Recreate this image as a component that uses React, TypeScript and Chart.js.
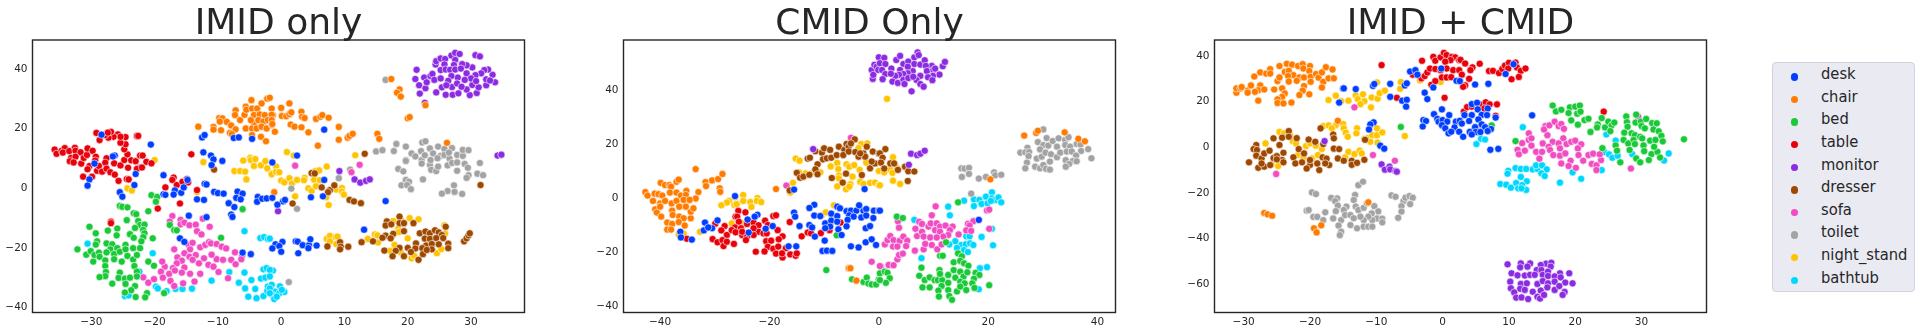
import React, { useEffect, useRef } from "react";
import { Chart, registerables } from "chart.js";

Chart.register(...registerables);

const categories = ["desk", "chair", "bed", "table", "monitor", "dresser", "sofa", "toilet", "night_stand", "bathtub"];
const colors = ["#023eff", "#ff7c00", "#1ac938", "#e8000b", "#8b2be2", "#9f4800", "#f14cc1", "#a3a3a3", "#ffc400", "#00d7ff"];

// Flat x,y lists.
const imidDesk = [-28.4,18,-20.6,14.7,-12.5,17.1,-12.1,17.9,-12.3,12.1,-11.1,11,-10.7,9.7,-11,7.8,-9.3,9.2,-26.3,11,-26.6,10.7,-29.5,8.3,-23,4.8,-30.3,3,-30.6,0.9,-23.2,1.1,-25.5,-1.3,-25.1,-2.8,-18.6,4.4,-18.6,-2,-18.3,-2.2,-16.8,-0.7,-17,-2.1,-15.8,-1.5,-15.4,0.3,-14.8,2.8,-12.1,1.5,-11.8,1.3,-13.3,-3.7,-12.2,-3.9,-10.6,-1.2,-10,-1.6,-9.1,-1.8,-6.9,-1.1,-6.1,-1.8,-7.1,-3.2,-6.4,-3.7,-8.3,-5,-7.4,-6.3,-7.9,-8.8,-7.7,-9.6,-11.8,-9.7,-14.6,-9.2,-16,-16.8,-15.3,-18,-3.7,-2.9,-3.8,-4.5,-3,-3.5,-2.3,-3.4,-6.1,-21.6,-4.8,-22.1,-4.6,16.6,-7.5,16.9,-6.7,17.1,2.5,11,-1.4,8.7,6.8,19.7,6.8,2.8,-1.4,-3.2,0.3,-4.4,0.6,-3.9,-0.6,-5.5,4.7,-3,6.6,-2.7,16.5,-4.3,13.1,-13.9,-0.9,-18.8,0.2,-18,-0.3,-19.4,-1.4,-20.2,0,-21.3,2.3,-17.8,2.6,-17.9,3.4,-19.1,4.4,-19.1,4.3,-20.1,4.6,-17.1,5.6,-19.2,2.7,-21.8];
const imidChair = [-13.1,20.7,-10.7,20.6,-10.7,19.7,-9.5,19.5,-9.8,23.6,-9.3,23.5,-9.7,22.4,-8.6,22.3,-7.9,21.1,-7.2,19.8,-8.1,18.6,-7.8,18.2,-7.2,26.2,-7.3,24.6,-6.5,22.9,-5.8,24.7,-5.6,27.4,-5.5,26.4,-4.7,29.6,-4.6,26.8,-3.8,26.8,-3.1,28.5,-2.2,30.1,-4.3,24.6,-3.4,24.8,-2.6,24.6,-4.3,21.8,-4.8,22.9,-3.6,22.9,-2.8,22.4,-2.1,22.9,-5.6,20.1,-4.6,20.1,-3.9,20.1,-3.1,20.7,-2.3,20.1,-4.6,17.9,-3.2,17.3,-2.4,15.8,-1.5,26.8,-1.3,24.6,-1.5,21.3,-1,19,-1.8,30.4,0,27,1.3,28.5,-1.5,24.7,-1.5,22.9,-1.4,21.6,0.1,24.3,0.8,24.2,1.3,24.9,1.6,25.5,3.2,25.7,3.3,24,3.7,23.6,1.5,21.4,2.1,20.7,3.2,20.5,4.3,18.8,5.5,23.3,6.2,24,6.5,24.6,7.5,23.7,9.1,20.6,9.1,16.3,10.5,17,10.8,17.6,11.3,18.3,5.8,14.3,15.2,18.3,15.5,16.6,17.4,36.7,18.7,33.2,18.3,32.1,18.9,30.8,20,23.5,20.3,23.9,22.8,27.9,26.2,15.3,-1.1,-1.3];
const imidBed = [-20.5,-2.3,-19.6,-2.9,-19.8,-4.5,-21,-7.7,-25.5,-5.9,-25.1,-6.2,-24.3,-6.4,-23.3,-8.4,-22.9,-8.7,-24.4,-10.7,-22.6,-11,-22.3,-12.3,-21.6,-12.2,-23.1,-13.3,-21.8,-14,-21.6,-15.1,-23.9,-15.4,-23.3,-16.6,-21.8,-16.4,-22.1,-17.8,-20.3,-16.8,-30.3,-12.9,-29.3,-15.1,-27.4,-14.2,-25.9,-13.5,-26,-15.8,-29.1,-17.8,-29.3,-18.9,-32.2,-20.5,-30.8,-22.3,-30.1,-21.1,-29.7,-24.6,-29.5,-22.4,-28.8,-21.6,-28.7,-23,-27.8,-24.2,-27.8,-26.1,-27.6,-18.5,-26.7,-18.8,-27,-20.5,-27.6,-21.5,-25.9,-20.1,-26.4,-22.1,-25.5,-21.3,-24.6,-19,-24.6,-20.5,-26.4,-23.8,-25.2,-24.6,-24.3,-22.7,-23.4,-23.9,-23.4,-20.1,-22.3,-20.1,-22.8,-22.4,-23.2,-26.1,-22.8,-28,-21,-24.6,-20.1,-26,-25.5,-28.3,-27.7,-28.1,-27.8,-29.5,-28.7,-29.8,-25.7,-30.1,-24.7,-30.3,-23.9,-30,-24.6,-32.1,-26.7,-32,-22.8,-29.6,-23.1,-32.8,-23.7,-34.2,-24.7,-35,-23,-36.5,-21.2,-35.2,-21.5,-36.6,-18.5,-35.2,-17.6,-12.3,-16.9,-14,-16.5,-14.1,-9.5,-16.6,-6.1,-7];
const imidTable = [-35.8,13,-35.5,11.6,-34.7,12.6,-34.2,13.5,-34.5,12,-33.5,12.5,-32.6,13.6,-32.5,12.6,-31.7,12.1,-33.2,10.2,-32.5,10.6,-33.4,9.1,-32.8,8.7,-31.6,8.3,-31.2,10.2,-30.7,11.2,-30.6,13.4,-29.8,12.6,-29.3,10.6,-29.4,9.3,-30.3,7.5,-30.6,6.4,-31.3,3.9,-29.9,3.9,-29.1,5.9,-28.8,7.5,-28.3,5.6,-27.6,10.1,-27.8,8.6,-27.6,6.6,-27,5.4,-26.3,4.6,-25.7,2.5,-26.4,8.4,-25.4,7.7,-24.8,9.5,-24.2,6.9,-23.7,9.4,-23,9.1,-22.4,6.9,-22.8,6.5,-22,7,-21.3,8.9,-20.5,8.4,-22.3,11,-21.9,11,-24.3,11.4,-24.8,13.1,-24.6,14.8,-25.4,15.3,-24.6,17.2,-25.8,18.1,-25.4,17.3,-26.5,17.3,-27.3,17,-27.8,17.9,-26.9,19,-27.4,18.7,-29.2,18.6,-28.7,16.2,-22.8,17.6,-22.6,17.6,-24.4,3.1,-24.1,3,-17,3.6,-17.2,2.8,-16.5,1.1,-15.6,2.2,-14.9,3.1,-14.7,2,-18.3,0.3,-16,-5.1,-19.5,-6.8,-26.9,-11.2,-26.9,-11.7,-14.2,11.4,-13.3,-0.6];
const imidMonitor = [21.2,36.7,21.4,39.8,21.8,34.6,21.9,31.8,22.6,37.2,22.8,33.6,23,35.6,23.6,37.7,23.9,38.4,24.2,36.4,24.4,41.6,24.5,42.7,25.2,43.6,25.9,43.4,26.9,44.6,27.5,45.5,28.2,45.1,27.5,43.1,30.7,44.7,31.4,44.3,24.5,32.2,25.4,33.9,26,31.4,27.1,31.4,28,31.9,29.8,31.3,30.9,32,29.3,33.2,30.2,34.7,31.2,33.9,32.4,34.6,33.8,35.6,33.4,38.1,32.7,39.9,32.1,39.7,31.6,38.6,30.2,40.6,29.3,41.3,28.6,41.7,27.3,41.4,25.8,41.6,25.2,39.7,26,39.9,26.7,39.8,27.5,39.9,28.4,40.2,29.3,38.6,30.7,38,30,36.9,29,36.4,27.9,37.2,26.9,37.7,25.2,36.9,26.4,36.1,27,34,27.8,35.2,28.5,34.1,26.1,34.6,32.4,36.6,33,36.2,30.8,36,22.7,28.7,34.2,11,34.8,11.3,9.2,5.8,11.6,3,12.5,1.9,13.4,2.5,14,3,-0.5,-7.7];
const imidDresser = [-10.6,6.3,13.2,11.6,4.8,5.1,5.3,5,6.4,0.3,7.7,-0.6,8.4,1,7.4,-1.3,1.8,-5.1,10.8,-3.9,11.5,-4.4,12.6,-5,31.5,1.1,18.7,-9.5,16.7,-11.1,16.5,-12.5,17.4,-12.1,18.7,-11.7,19.4,-11.7,20.9,-11.7,19.4,-14.4,17.7,-15.3,16.5,-15.9,16,-16.6,17.3,-16.8,21.9,-15.1,22.8,-14.5,23.5,-15.1,24.3,-14.1,24.9,-14.8,26,-12.9,25.4,-15.7,22.7,-16.9,23.5,-17,24.5,-16.7,25.6,-16.7,21.3,-18.5,22.9,-19.2,23.8,-18.7,24.9,-18.8,26.4,-18.6,21.2,-20.2,20,-20,22.3,-20.1,23.8,-20.5,26.4,-20.1,16.3,-20.9,18.7,-20,18.1,-21,17.6,-22.8,19.4,-22.8,20.5,-21.4,21.7,-24,22.4,-22.1,23,-20.7,28.9,-17.8,29.3,-16.8,29.6,-15.8,29.8,-15.1,12.7,-18.1,14.5,-17.8,9.3,-18.1,9.4,-19.6,10.6,-19.6,7.3,-19.5,9.3,-20.5];
const imidSofa = [-17.2,-9.3,-17.6,-11.2,-15.9,-10.6,-15.9,-12.1,-15.3,-11.5,-14.5,-12.4,-13.5,-12.2,-12.4,-10.2,-11.3,-12.9,-13.3,-14.4,-12.6,-15.5,-16.9,-20.5,-14.6,-19,-14,-18.3,-14.4,-20.5,-15.3,-21.8,-16.4,-23.2,-15.7,-24.3,-14.5,-23,-13.5,-22.4,-12.8,-19.8,-12,-19,-11.4,-18.1,-11.1,-18.5,-10.2,-18.7,-9.4,-19.6,-8.7,-20.2,-7.3,-21.5,-6.2,-22.9,-6.3,-23.8,-7.9,-24,-7.2,-25.5,-10.2,-23.8,-9.2,-24,-11,-22.3,-12.2,-23.5,-13,-25.2,-14,-24,-16.5,-25.2,-15.3,-26.6,-17.1,-26.8,-18.4,-26.3,-18.8,-24.6,-19,-28,-18.7,-30,-17.7,-28.7,-16.8,-27.6,-15.7,-28.3,-14.4,-28.7,-12.8,-28.7,-11.5,-25.7,-10.7,-26.3,-9.9,-28.1,-8.4,-30.2,-21.8,-29.9,-21,-31.7,-20.1,-30.5,-17.5,-31.1,-16.9,-32.8,-15.5,-31.9,-13.7,-31.3,2.2,7.6,11.1,5.4,12.4,7.9];
const imidToilet = [16.5,36.4,15,12.4,16,12.8,17.8,12.5,18.2,14.9,19.7,14,20.6,11.7,21.2,10.7,19.7,9.5,19.7,9.2,18.5,6.5,19.3,5.7,19.7,2.8,20.2,2.2,19,1,19.9,1.1,20.5,-0.3,22.4,3,22.3,15.4,22.8,15.8,22.1,12.5,22.2,9.5,22.2,8.3,22.7,11.1,23.5,13.4,24,11.7,23.5,7.8,23.6,9.5,23.7,6.2,24.5,5.8,24.8,7.3,24.8,14,25.8,13.2,25.2,10.9,24.7,10.1,25.8,11.2,26.6,10,26.3,7.7,27,8.5,27.8,8.7,27,13.5,26.5,12,27.8,11.2,28.7,10.9,28.7,12.9,29.6,12.8,29,8.2,29.5,6.9,27.8,5.9,31.4,8.5,31,4.9,31.9,4.4,29.6,4.4,29.3,3.5,27.3,1,26.3,-0.9,25.4,-1.8,27.4,-1.2,28.6,-1.9,9.1,3.4,10.9,6.3,1.6,-0.1,2.5,-6.9,1.2,-31.5];
const imidNightStand = [-12.3,8.8,-24.3,0,-23.6,-0.7,-20,9.5,-13.3,-1.3,-7.4,5.8,-6.5,5.8,-5.7,5.6,-5.5,3,-6,9.3,-4.9,10.2,-4.8,9.5,-4.1,9.8,-4.3,7.5,-3.2,7.7,-2.5,9.1,-2.2,6.7,-1.5,5,0.9,12.2,2,11,-0.8,7.3,-1.5,4.7,-0.8,5.5,-0.3,5.4,0,2.6,0.5,2,1.3,3.4,1.7,1.6,2.5,2.8,3.7,3.5,3.6,2.7,5.2,2.9,6.1,2.7,5.4,5.8,6,6,7.2,7.3,4.3,0,4.8,-0.9,5.5,0.7,2.2,-2.7,7.1,-3,7.5,-5.6,8.7,-0.4,9.6,0.1,9.6,-1.1,9.9,-2.1,11.7,11.1,17.7,-11,20.3,-10,21.7,-10.4,18.9,-10.4,18.5,-13.5,18.6,-14.7,20,-16.8,25.8,-12.4,25.9,-15.2,17.9,-19,17.2,-21,18.9,-21.5,20.6,-23.5,21,-22.6,24.6,-21.8,25.3,-20.4,13.7,-17,14.8,-15.5,15.2,-15.8,15.3,-18.2,7.2,-17,7.7,-16,8.6,-16.4,8.9,-16.2,7.7,-17.8,8.7,-18.7];
const imidBathtub = [-30.6,-18.6,-20.3,-21.8,-22.4,-28,-19.8,-33,-19.5,-33.6,-18.1,-34.5,-24.7,-36.2,-24.1,-36,-16.7,-33.8,-15.6,-33.8,-14.1,-33.7,-11,-31,-8.2,-28.1,-5.8,-14.4,-5.8,-28.3,-6.7,-31.7,-5.7,-33.6,-5.2,-36.4,-4.7,-30.8,-4.1,-33.8,-3.9,-36.9,-2.8,-36.2,-3.3,-16.7,-2.7,-16.4,-2.1,-17,-3.2,-30.3,-2.8,-27.2,-2.3,-26.8,-2.5,-30,-2.1,-33,-2.2,-34.5,-1.5,-32.4,-1.3,-27.6,-1.8,-16.9,-1.8,-27.4,-0.2,-32.9,0.5,-34.8,-1,-34.7,-0.3,-35.2,-1.8,-33.6,-1.4,-35.8,-1.1,-37.2,-0.7,-36.4,-1.8,-35.2,0.1,-34.1,-1.8,-29.6];

const cmidDesk = [-26.3,0.7,-15.5,3.1,-2.6,3.3,-24,-8,-22.2,-6.2,-22.7,-6.9,-29.5,-8.3,-31.8,-9.1,-32,-12,-30.5,-11.2,-31.2,-10.9,-36.3,-12.5,-36.2,-14.6,-34.2,-15.4,-20.7,-11.4,-19.4,-10.4,-23.8,-12.8,-15.5,-5.4,-15.3,-6.9,-14.5,-10.4,-11.8,-2.5,-12.7,-3.7,-11.8,-6.5,-10.7,-6.7,-12.7,-10,-12.2,-10.9,-11.7,-14.3,-8.7,-5.8,-7.6,-6.7,-9.8,-9.4,-8.7,-8.4,-7.6,-8.8,-8.9,-10.6,-9.8,-11.2,-7.4,-11.6,-6.8,-13.7,-9.9,-15.8,-7.6,-3.2,-7.1,-3.8,-5.9,-4.9,-5.1,-4.7,-4.1,-4.7,-2.8,-4.7,-3.6,-2.7,-2.3,-4.1,-0.9,-4.7,0,-4.7,-5.4,-6.4,-4.6,-6.9,-3.2,-7.2,-2.3,-6.5,-1,-7.4,-5.7,-8.1,-5.9,-10.5,-2.4,-11.2,-1.6,-10.4,-5.1,-17.9,-3.7,-18.3,-2.4,-16.4,-1.3,-15.3,-0.5,-17.4,-10.3,-19.6,-9.5,-19.5,-8.5,-19.6,-16.5,-17.9,-15.1,-17.9,0.2,-4.7,18.3,-8.1];
const cmidChair = [-42.7,2.2,-42.3,0.9,-41,1.6,-40.3,1.4,-39.6,0.9,-41.3,-1.1,-40,-2,-40.9,-4.2,-40.6,-5.4,-39.8,-6.9,-39.9,5.6,-39.1,4.8,-38.3,4.8,-38,4.2,-37,6,-36.6,6.8,-38.2,2,-37,2,-39.1,-1.1,-37.9,-2,-36.2,0.9,-35.2,2.6,-35.3,1.1,-33,2.2,-33.5,-0.2,-33.5,10.7,-31.7,5.9,-31.6,4.4,-30.5,6.5,-29.4,7,-28.6,8.9,-29.1,3.6,-29,2.3,-18.8,3.3,-37,-1.1,-36.5,-3.2,-37.8,-4.7,-37.7,-6.3,-36.5,-6.9,-35.7,-7.5,-34.4,-7.5,-34.4,-5.1,-33.9,-3.8,-35.3,-3.2,-35.7,-0.7,-34.6,-0.7,-40,-3.2,-38.7,-9.1,-37.8,-9.6,-36.6,-8.9,-38.7,-11.7,-38,-11.7,-35.5,-10.2,-5.5,-26,-5.2,-26,-4.1,-30.6,26.6,23.1,28.8,24.1,29.1,24.9,34,24.3,36.5,21.9,37.7,21,20.4,6.9];
const cmidBed = [-9.6,-26.7,-7.7,-13.8,-4.9,-30.1,-2.8,-31.1,-2.2,-29.5,-1.9,-31.7,-1.3,-32,-0.5,-32,0,-30.1,0.2,-27.9,1.1,-27.3,1.6,-27.7,2,-29.7,1.3,-31.4,0.2,-30.4,3.3,-6.9,4.4,-7.4,14.5,-1.6,12.3,-16.4,11.2,-21.4,11.7,-21.4,14.5,-20.5,15.2,-21.6,13.7,-23.8,14.9,-23.3,15.6,-24.2,16.4,-25.1,7.8,-25.8,11.1,-26.7,7.4,-28.8,8.4,-30.4,9.3,-29.4,10.2,-30.4,10.8,-30.4,11.6,-30.4,11.2,-28.1,12.7,-28.5,13.7,-26.7,14.9,-27.3,14,-29.5,15.5,-29.1,16.2,-27.5,17.7,-27.7,18.4,-28.5,17.4,-29.9,12.7,-31.4,14.9,-31,15.7,-31.6,17.1,-31.6,8,-33.1,9.3,-33.1,11.5,-32.6,10.9,-34.3,12.7,-34.1,14.3,-34.6,14.9,-32.8,16,-34.1,17.5,-33.3,11,-36.5,12.9,-36.3,13.4,-37.7,20.2,-32.3];
const cmidTable = [-25.7,-4.8,-24.4,-5.3,-26.2,-6.9,-25.9,-6.9,-25.6,-8.8,-29.9,-9.5,-28.2,-10.4,-28.8,-12,-26.3,-10.9,-25.2,-11.2,-24.1,-9.6,-22.9,-9.1,-22,-10.1,-20.8,-8.4,-19.3,-6.7,-18.8,-6.4,-20.3,-10,-22,-12.5,-21.1,-13.1,-20.5,-13.1,-18.5,-11.9,-17.6,-14.2,-27.8,-13.7,-26.9,-11.9,-26.2,-12.7,-25,-13.7,-24.1,-14.3,-22.9,-13.7,-24.3,-15.6,-25,-12.5,-22.9,-11.2,-30.4,-15.2,-29.5,-16.4,-28.6,-15.6,-28.4,-17.8,-27.8,-16.2,-26.5,-17,-35.1,-15.1,-16.3,-8.9,-20.6,-16,-19.7,-15.8,-18.3,-15.3,-20.3,-18.1,-19.3,-18.8,-18.4,-18,-17,-18.6,-22.5,-19.9,-20.9,-19.8,-18.8,-20.6,-17.6,-22,-17.7,-20.5,-16.2,-20.9,-15.2,-21.4,-15,-20.5,-14.1,-14.2,-13,-12.8,-12.4,-13.1,-10.6,-13,-9,-11.9,-7,-9.1];
const cmidMonitor = [-1.1,44.1,-1.3,47.4,-0.8,49.3,0,52.1,-1,45.6,-0.4,48.6,-0.1,47.4,-12,18.1,1,51.9,0.2,49.9,1.2,49.6,0.6,47.4,1.2,45.9,0.7,44,2.3,47.9,3.2,51.1,3.9,52.6,4.5,49.6,5.4,50.5,6.5,52.1,7.1,53.9,7.3,52.9,6.5,49.6,7.6,49.4,8.4,51,9.7,48.9,8.6,48.9,8.8,47,10,47.4,10.3,47.9,11.7,48.8,12.1,50.4,11.1,45.7,9.9,45.2,9,44.7,9.8,43.6,7.6,45.2,6.9,43.7,7.6,42.2,8.2,41.2,6,39.5,6.2,47,5.3,48.6,5.3,46.2,3.9,47.4,4.5,45.9,3.7,45.6,3,45.2,2.5,43.1,3.5,42.6,4.5,43.7,4.7,42.2,5.4,44.4,6.3,44.9,2.2,46,5.9,16.4,7,15.9,7.6,16.4,8.4,17.5,5.5,12.3];
const cmidDresser = [-13,14.6,-12.6,14.9,-11.6,17.3,-10.4,16.8,-10,18.4,-8.9,17.8,-10.2,14.3,-9.5,14.7,-8.7,14.9,-7.7,15.9,-7.3,19,-6.3,17.8,-5.9,20,-5.5,19,-6.5,15.9,-5.5,17.2,-4.4,21.7,-4.3,17,-5.1,20.2,-3.7,15.3,-2.8,16.5,-2.5,15.3,-2.2,19,-1.1,17.2,0,16.5,-1.6,11,-0.7,12.8,-3.1,8.5,-11.2,12.5,-11.6,10.6,-11.2,8.8,-15,9.3,-14.4,7.5,-13.8,7.9,-12.7,8.6,-16.3,2.8,-8.6,7.4,-6,9,-6.6,5.7,-3.4,16.5,-1.3,13.5,1.2,18.1,0.2,16.5,0.7,14.9,0.4,13.1,1,10.9,2.1,12.8,2.8,12.8,3.5,10.4,4.8,11.6,5.4,9.9,6.5,9.8,5.3,6.3];
const cmidSofa = [-5.1,22.3,-16.9,4.6,-1.3,-23.6,0.4,-25.4,0.2,-25.2,1.8,-24.8,2.7,-24.9,3.4,-22.7,3.7,-21.1,4.4,-20.6,1.1,-17.2,1.6,-15.6,2.1,-14.1,2.7,-15.6,2.6,-18,3.8,-15.9,4.5,-14.3,5.2,-15.8,5,-17.8,3.4,-18,3.5,-8.6,3.7,-11,7.4,-8.8,7.9,-9.6,9.7,-6.4,10.4,-3.1,6.7,-11.4,7,-14.1,6.6,-19.5,8.2,-19,8.5,-17,9.7,-17.4,10.7,-19,11.5,-17.2,7.9,-12.5,8.2,-14.3,9.1,-10.6,9.5,-9.4,10.6,-9.4,10.3,-11.9,11.2,-10.6,11.2,-12.5,12.2,-10.2,13.5,-10.6,13,-11.9,12.7,-13.7,11.8,-14.3,9.4,-14.6,10.6,-14.6,14.6,-13.5,16.3,-9.6,17.3,-8.6,16.6,-10.2,16,-12,16.9,-12.2,19.8,-4.6,20.2,-4.3,20.2,-11.4];
const cmidToilet = [30.1,25.4,30.7,22.2,29.1,20.7,27.2,18.6,25.9,16.8,26.8,16.9,27.5,17,27.4,15.5,27.1,13.1,26.8,11,28.6,11.6,28.9,14.6,29.8,15.3,30.1,19.6,31,19.4,29.5,18,30.5,16.8,31.5,16.2,31.3,13.5,31.8,21.1,32.9,22.1,32.6,19,32.6,15.1,33.2,16.8,34.1,21.5,34.7,22.5,34.1,19.6,35,19,34.4,17.2,35.3,17.2,36.2,20,36.9,19.8,38.3,18.1,37,17.4,36.1,15.7,35.5,13.7,36.2,13.6,38.9,14.7,34.2,14,34.8,12.6,34.2,11.6,29.5,11,30.1,12.2,30.6,10.8,31.3,10.5,15.1,11,15.7,10.9,16.5,11.2,16.5,8.9,15.2,7.8,18.3,7.2,19.6,7.8,21.1,9.5,21.3,8.4,22.4,8.6,16.9,1.6];
const cmidNightStand = [-15.2,14.6,-14.5,13.8,-14.6,9.5,-13.4,9.1,-12.4,9,-10.7,9.5,-15.7,5.6,-16.2,2,-24.8,1.1,-26.3,0.2,-27.4,-1.1,-27.8,-1.7,-28.8,-2.7,-26.4,-2.6,-26,-2.3,-24.8,-1.1,-23.5,-1.5,-22.2,0,-22.3,-1.1,-21.5,-1.5,-23.3,-3.3,-24.9,-9.4,-26.9,-9.4,-32.7,-12.5,-35.7,-13.2,-36.6,-13.5,-10.4,-6.3,-9.7,-5.3,-8.2,-2.7,-8.8,11.7,-7.6,13,-7.4,10.7,-7.3,8.3,-5.9,12.5,-5.4,11.6,-4.5,12.2,-3.5,10.4,-2.3,13.1,-7.3,7.3,-4.8,7.9,-5.2,5.1,-7.6,4.3,-6,3.2,-5.4,4.2,-3.4,6,-2.8,5.2,-1.6,5.6,-0.7,5.7,0,4.7,-3.2,20,-3.7,18.5,-2.1,20.2,0,10,1.5,36.7,2.6,15.1,3,12.2,3.3,11.2,2.1,10.4,2.5,9.3,1,9.5,2.6,6.4,3.9,5.2,0.2,4.7];
const cmidBathtub = [20.7,2.1,17.4,-0.5,17.4,-3,18.4,-0.7,18.8,-2.2,19.6,0.5,19.9,-2,20.7,-0.1,21.3,-0.7,21.9,0.2,22.4,-1.6,20.5,-1.1,15.6,-1,12.7,-3.2,13,-6.4,6.5,-8.1,20.7,-11.4,18.8,-14.4,20.9,-17.5,16,-14.2,16.6,-14.2,14,-16,12.9,-17.2,15.1,-17.4,15.9,-17.2,16.7,-16.8,17.3,-17.4,14.3,-18.5,15.6,-19.3,16.3,-20,7.8,-22.3,18.5,-26,19.8,-25.6,18.3,-33.8];

const bothDesk = [-15,25.8,-14.9,25.8,-15.6,19.6,-13.1,25.5,-10.5,26.9,-10.3,27.7,-7.9,27.8,-7.9,22.1,-6.1,20.4,-5.4,20.8,-5.5,17.8,-5.7,27.1,-5.4,28,-4.9,33.2,-4.1,33.8,-3.8,31.8,-2.7,23.9,-2.3,21.1,-1.4,26.2,-0.2,34.5,2.1,29.1,2.6,29,-1.3,14.5,-0.1,16.6,1,14.1,-2.9,11.9,-2.5,11.5,-3,9.1,-0.8,12.4,-0.6,11.2,0,11.9,0.7,11.2,-0.1,9.7,0.4,8.3,2,11.2,2.6,11.6,1.8,8.7,0.9,6.1,1.3,6.8,2.5,6.8,-10.4,10.9,-10.9,10,-11.1,7.8,-9.4,0.7,-8.8,-0.6,4.9,27.5,6.9,27.8,9.5,32.1,10.7,36.4,13.5,14,4.4,18.9,5.2,19.5,5.3,16.6,6.8,17,3.3,14.1,4.4,14.1,5.9,14.2,6.7,14.1,8,13,4,11.5,5.4,12.2,2.9,10.4,4.9,8.8,5.9,10,6.4,8.8,7.3,8,4.1,6.7,5,6.7,5.7,6.7,6.8,7.1,4.4,5.6,3.1,4.6,7.2,-1.1,8.4,-0.7];
const bothChair = [-31.1,23.9,-31.1,25.8,-30.5,25.8,-30.3,26.4,-29.4,24.8,-29.4,23.9,-28.9,27.1,-28.4,31,-27.5,32.8,-27.5,27.1,-27.8,25,-28.3,24.3,-26.9,25.3,-27.8,20.4,-26.6,32.3,-26,34.2,-26,32.3,-24.6,35.6,-25.4,25.3,-24.9,29,-24.6,30.6,-24.2,25.8,-23.8,23.6,-24.2,22.1,-24.9,21,-24.9,19.4,-24,19.2,-22.8,19.6,-23.5,36.6,-22.7,36.2,-23.8,33,-23.2,33.5,-22.5,31.6,-23.3,31.2,-23.2,28.8,-21.8,35.6,-21.1,36.4,-21,34.5,-21.6,30.6,-22,29.1,-20.9,30.6,-20.9,26.8,-21.1,24.8,-21.6,22.9,-20.1,23.2,-20,35.6,-20.1,33.4,-19.9,30.9,-19.1,32.1,-19.9,28.7,-18.7,30.5,-18.2,32.8,-17.6,35.1,-18,28.7,-18.2,26.2,-17.2,30.2,-16.6,34.1,-16.4,30.2,-26.9,-28.8,-26.4,-29.4,-25.7,-30,-19.4,-35.5,-19,-37.3,-18.3,-34.2,-15.8,11.6,-11.2,-24.1];
const bothBed = [16.6,18.3,17.1,15.7,17.9,16.4,19.2,17.5,20,17.8,20.7,18.3,19,15,20.3,14.7,20.8,15.6,19.4,11.8,20.4,9.9,21.4,11.9,22,12.5,22.3,6.7,23.4,10,23.3,8.7,24,12.8,24.5,8.7,25,11.2,25.5,9.6,25.9,10.8,25.3,7.1,24.1,-0.4,26.1,0.8,26.3,-1.5,26.8,-6.6,11,2.7,7.4,9.6,36.4,3.5,27.7,13.5,27.8,11,29.2,14.3,27.9,9,29.1,10.8,29.9,11.2,30.7,12.4,31.6,10.6,32.3,10.5,27.4,6.4,28.5,6.1,29,5.3,30,9.3,30.5,8.3,31.8,7.8,32.6,7,33,5,27.3,3.2,28,1.7,28.8,3.2,29.8,4.6,30.1,3.9,31.3,2.9,32.1,3.2,33.2,2.6,29,1.4,30.3,0.8,28.2,-1.2,30.4,-1.7,31.5,-3,32.4,-2,32.8,-4.5,29.2,-4.9,29.8,-6.6,31.1,-5.6,31.9,0.2,-6.3,8.9];
const bothTable = [-9.2,36,-6.9,21.7,-3.1,37.9,-4.5,31.8,-3.2,30.2,-2.7,31.2,-2.3,32.8,-1.7,27.4,-1.9,34.5,-1.4,39.6,-1.1,37.9,-1.1,34.3,-1.1,29,-0.3,39.4,0.2,41.4,0.6,40.4,1.4,39.6,1.9,39.4,2.5,38.2,1.2,38.2,0.4,37.5,-0.1,30.6,0.6,30.6,1.3,30.7,-0.3,33.8,0.6,34.5,1.6,33.8,2.5,33.8,0.3,21.7,2.7,38.3,3.4,36.7,4.5,35,4.2,33.8,5.6,36.6,2.9,31.8,4,30,3.4,27.1,3.1,26.5,7,33.4,7.6,33.5,8.5,32.5,9,34.3,9.4,35.8,10,37,9.9,34.5,11,37.1,11.2,35,11.8,33.5,12.5,34.5,11.5,30.8,10.4,29.8,3.2,15.6,3.7,17.6,4.4,17.8,5.6,18.8,6.5,19.7,6.3,17,7.1,18.8,8.2,18.8,8,13.8,24.3,15.6];
const bothMonitor = [-17.8,2.7,-9.2,-7.5,-8.7,-9.8,-8,-8.5,-7.9,-9.7,-7.1,-10.4,-6.9,-10.7,9.8,-51.3,11.8,-50.9,13.2,-50.9,15.6,-51,16.4,-50.6,11.7,-52.6,12.8,-52.3,14.8,-51.6,16.3,-52.3,14.2,-53.8,14.9,-53.8,10.4,-55.2,11.3,-56.1,12.4,-56.2,13.2,-55.9,13.9,-55.9,15.1,-55.9,15.9,-54.5,15.9,-56.4,17.7,-55.2,16.9,-56.6,19.1,-55.2,17.8,-57,10.2,-58.9,11.8,-59.9,12.7,-59.6,14.3,-59.9,15.1,-58.6,15.9,-59.6,16.9,-58.9,18.5,-59.3,19.6,-59.6,10.3,-61.8,11.7,-62,12.4,-62.5,13.6,-63.3,14.8,-62.8,15.8,-61.4,16.9,-62.5,17.6,-60.8,18.4,-63.4,10.8,-63.6,11.1,-65.9,11.9,-65.8,12.9,-66.5,14.3,-65.5,14.7,-66.3,15.3,-64.7,18.1,-64.7];
const bothDresser = [-29.2,-6.6,-28.1,1,-28.5,-0.8,-28,-1.2,-28.1,-3.7,-27.3,-4.9,-26.9,-2.7,-26.1,-1.5,-27.8,-9,-26.9,-8.5,-26,-7.8,-27.3,-7.1,-25.5,3.9,-24.6,1,-24.2,4.2,-23.2,7.1,-23.2,4.6,-25.5,-4.7,-25,-3.9,-24,-2.4,-24.2,-5.6,-25,-5.3,-24,-6.6,-22,4,-21.7,-0.8,-20.9,-2.7,-20.2,3.4,-22.5,-4.4,-22.2,-7.1,-21.2,-6.6,-20,-7.8,-20.5,-9.3,-19.2,2.4,-18.6,-10,-18.4,8.3,-18,1.4,-18.1,-4.4,-17.5,-5,-17.1,-7.8,-17.7,-7.1,-16.5,5.6,-16.4,3.9,-16.4,-0.6,-15.6,-0.8,-15.8,-4.9,-14.9,-5.9,-13.7,-5.9,-13.7,-7.7,-12.9,-6.8,-11.8,-5.5,-11.7,3.3,-20,-5.6,-18.9,-7.1];
const bothSofa = [-13.3,17.5,-10.5,-3.4,-7.2,-5.9,-25.1,-11.7,29.5,13.4,28.4,-9.3,13,6.1,12,1.8,13,3.2,13.4,3.9,11.3,-1.1,11.5,-3.1,12.4,-1.5,13.4,0.7,14.1,-2,15,-2,15.1,1.7,15.8,5.3,15.5,9.3,15.3,7.8,16.1,9.6,16.9,11.2,17.5,9.3,17.9,10.2,18.3,8.1,18.2,3.9,16.6,2.4,16,0.2,16.2,-1.2,17.5,1.7,17.7,-0.5,18.7,1.4,19.4,2.4,20,2.9,20.9,1.3,20.4,-0.5,16.7,-3.4,17.7,-3.7,18.5,-2.7,14.6,-5,17.9,-7.1,19.3,-5.9,19,-8.2,20.1,-9,20.5,-3.4,21.2,-5.9,22,-3.4,22.7,-2.8,22.5,-7.3,23.2,-7.9,23.2,-10,23.9,-5.6,23.7,-3.1];
const bothToilet = [-19.7,-19.8,-19.1,-20.5,-12.7,-16.6,-12,-15.1,-13.2,-20.9,-20.5,-27.8,-20.2,-27.5,-17.7,-28.5,-19.5,-30.5,-18.9,-30.5,-18,-31.9,-16.8,-22.2,-15.9,-22.4,-16.2,-23.6,-15.8,-25.6,-14.5,-26,-14.9,-27.5,-16.1,-28,-16.5,-31.2,-15.3,-31.9,-15.7,-34.3,-15.3,-37,-15.5,-38.5,-14.7,-29.7,-13.9,-29.7,-13.4,-23.1,-13.1,-26,-12.7,-27.5,-11.9,-26.5,-11.4,-24.6,-10.3,-25.8,-9.7,-28.1,-10.7,-29,-9.9,-31.2,-9.1,-31.3,-9.1,-32.9,-10.6,-31.9,-11.2,-30.4,-11.9,-31.9,-12.9,-35.5,-13.9,-34.1,-11.9,-34.8,-11.2,-34.8,-10.6,-34.8,-12.4,-30.4,-13.4,-31.1,-7.7,-21.1,-7.1,-21.7,-5.9,-23.6,-5.6,-22.1,-5,-21.4,-4.5,-22.1,-6.2,-25.8,-4.9,-24.9,-6.2,-28.2,-6.7,-30.9];
const bothNightStand = [-26.7,1.7,-24.6,6.7,-23.9,6.1,-23,5.3,-22.6,2.7,-22.1,1.7,-20.6,0.5,-20,1.7,-19.1,0.7,-18.2,-0.8,-21.8,-3.4,-21,-4.4,-19.7,-4.9,-18.8,-3.4,-25.8,-7.5,-24.8,-8.2,-18,9.3,-17.2,9.6,-16.1,9.7,-16.7,8.3,-15,10.2,-14.9,8.3,-14.6,6.4,-14.3,4.6,-12.9,8.3,-13,6.1,-11.2,4.2,-11.8,3.7,-10.6,5.3,-9.9,8.3,-9.9,5.3,-9.1,6.5,-10.9,2.4,-9.8,2,-5.7,4.9,-14.7,-4.4,-14.2,-2,-13.3,-3,-12.5,-1.5,-12.2,-2.7,-17.2,20.7,-16.1,22.6,-15.3,20.2,-14.2,20.4,-13.1,22.7,-12.8,21.1,-12,23.2,-11.8,20.2,-12.4,18.9,-10.8,17.5,-10.7,21.8,-9.8,21.3,-9.5,23.7,-8.7,24.8,-9.9,28.4,-6.4,25.6,-6.3,28.6,-3.4,29.3,-0.3,28.6];
const bothBathtub = [5.1,1.4,5.8,3.7,6.4,3.4,12.1,8.8,24.7,5.6,26.1,2.9,24.4,-2.1,25.1,-3.1,25.6,-4.6,26.4,-3.7,28.6,-3,34.1,-2.7,33.4,-5.8,24,-10,20.9,-13.8,19.6,-11,17.7,-15.5,11,-9.1,11.8,-9.5,12.6,-9.5,9.9,-10.3,9.8,-11.6,11.8,-13,13.6,-9.7,14.3,-9.5,14.1,-7.9,15,-7.9,15.7,-9.7,14.9,-11.4,15.4,-12.6,8.7,-16.1,9.6,-16.4,10.3,-17.7,11.1,-15.7,12.7,-14.9,11.4,-18,12,-16.6,12.6,-18.7,11.9,-18];

const imidSeries = [imidDesk, imidChair, imidBed, imidTable, imidMonitor, imidDresser, imidSofa, imidToilet, imidNightStand, imidBathtub];
const cmidSeries = [cmidDesk, cmidChair, cmidBed, cmidTable, cmidMonitor, cmidDresser, cmidSofa, cmidToilet, cmidNightStand, cmidBathtub];
const bothSeries = [bothDesk, bothChair, bothBed, bothTable, bothMonitor, bothDresser, bothSofa, bothToilet, bothNightStand, bothBathtub];

const INK = "#262626";
const FONT = "'DejaVu Sans'";
const TOP = 40;
const BOTTOM = 312.5;
const H = 334;
const TITLE_SIZE = 36;
const TITLE_PAD = 10;

const panels = [
  { title: "IMID only", series: imidSeries, left: 0, width: 557, pl: 32.5, pr: 524.5, xr: [-39.3, 38.45], yr: [-41.7, 49.8], xs: 10, ys: 20 },
  { title: "CMID Only", series: cmidSeries, left: 579, width: 581, pl: 44.5, pr: 536.5, xr: [-46.7, 43.3], yr: [-42.4, 58.5], xs: 20, ys: 20 },
  { title: "IMID + CMID", series: bothSeries, left: 1170, width: 581, pl: 44.5, pr: 536.5, xr: [-34.4, 39.8], yr: [-72.4, 47], xs: 10, ys: 20 },
];

const frame = {
  id: "frame",
  afterDatasetsDraw(chart: any) {
    const { ctx, chartArea: a } = chart;
    ctx.save();
    ctx.strokeStyle = INK;
    ctx.lineWidth = 1.4;
    ctx.strokeRect(a.left, a.top, a.right - a.left, a.bottom - a.top);
    ctx.restore();
  },
};

const fmt = (v: any) => String(v).replace("-", "\u2212");

function Panel({ p }: { p: (typeof panels)[number] }) {
  const ref = useRef<HTMLCanvasElement>(null);
  useEffect(() => {
    const chart = new Chart(ref.current as HTMLCanvasElement, {
      type: "scatter",
      data: {
        datasets: categories.map((name, i) => {
          const flat = p.series[i];
          const pts = [];
          for (let k = 0; k + 1 < flat.length; k += 2) pts.push({ x: flat[k], y: flat[k + 1] });
          return {
            label: name,
            data: pts,
            backgroundColor: colors[i],
            borderColor: "#ffffff",
            borderWidth: 0.6,
            pointRadius: 3.6,
          };
        }),
      },
      options: {
        responsive: false,
        animation: false,
        layout: { padding: { left: 0, right: p.width - p.pr, top: 0, bottom: 0 } },
        plugins: {
          legend: { display: false },
          tooltip: { enabled: false },
          title: {
            display: true,
            fullSize: false,
            text: p.title,
            color: INK,
            font: { family: FONT, size: TITLE_SIZE, weight: "normal", lineHeight: (TOP - TITLE_PAD) / TITLE_SIZE },
            padding: { top: TITLE_PAD, bottom: 0 },
          },
        },
        scales: {
          x: {
            type: "linear",
            min: p.xr[0],
            max: p.xr[1],
            grid: { display: false, drawTicks: false },
            border: { display: false },
            ticks: { stepSize: p.xs, includeBounds: false, color: INK, font: { family: FONT, size: 10.5 }, padding: 3, maxRotation: 0, autoSkip: false, callback: fmt },
            afterFit: (s: any) => { s.height = H - BOTTOM; },
          },
          y: {
            type: "linear",
            min: p.yr[0],
            max: p.yr[1],
            grid: { display: false, drawTicks: false },
            border: { display: false },
            ticks: { stepSize: p.ys, includeBounds: false, color: INK, font: { family: FONT, size: 10.5 }, padding: 5, autoSkip: false, callback: fmt },
            afterFit: (s: any) => { s.width = p.pl; },
          },
        },
      } as any,
      plugins: [frame],
    });
    return () => chart.destroy();
  }, []);
  return <canvas ref={ref} width={p.width} height={H} style={{ position: "absolute", left: p.left, top: 0, width: p.width, height: H }} />;
}

export default function App() {
  return (
    <div style={{ position: "absolute", left: 0, top: 0, width: 1922, height: 334, overflow: "hidden", background: "#fff" }}>
      {panels.map((p) => <Panel key={p.title} p={p} />)}
      <div style={{ position: "absolute", left: 1772, top: 62, width: 143, height: 230, boxSizing: "border-box", background: "#eaeaf2", border: "1px solid #d2d2d8", borderRadius: 4, fontFamily: FONT, fontSize: 15.5, color: INK }}>
        {categories.map((name, i) => (
          <div key={name} style={{ position: "absolute", left: 0, top: 2.6 + i * 22.6, height: 22.6, width: "100%" }}>
            <span style={{ position: "absolute", left: 17.5, top: 7.5, width: 7.5, height: 7.5, borderRadius: "50%", background: colors[i] }} />
            <span style={{ position: "absolute", left: 47.5, top: -1.5, lineHeight: "20px", whiteSpace: "nowrap", transform: "scaleX(0.95)", transformOrigin: "left center" }}>{name}</span>
          </div>
        ))}
      </div>
    </div>
  );
}
